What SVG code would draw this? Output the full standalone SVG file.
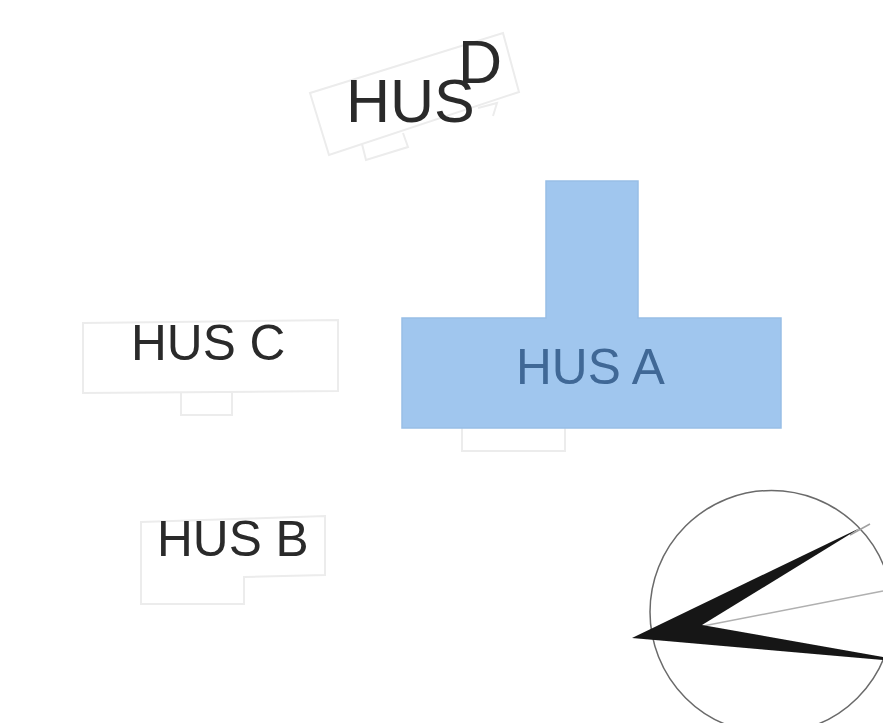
<svg xmlns="http://www.w3.org/2000/svg" width="883" height="723" viewBox="0 0 883 723">
<style>
.o{fill:none;stroke:#ececec;stroke-width:2}
.t{font-family:"Liberation Sans",Arial,sans-serif;font-size:49.6px;fill:#2a2a2a}
.d{font-size:61px}
.a{fill:#3f6896}
</style>
<defs><filter id="soft" x="-5%" y="-5%" width="110%" height="110%"><feGaussianBlur stdDeviation="0.6"/></filter></defs>
<rect width="883" height="723" fill="#fff"/>
<g filter="url(#soft)">
<g id="hus-d">
<path class="o" d="M310 93L503 33L519 92L329 155Z"/>
<path class="o" d="M362 144L366 160L408 147L403 133"/>
<path class="o" d="M478 108L497 103L493 116"/>
<text class="t d" x="346" y="122">HUS</text>
<text class="t d" x="458" y="83">D</text>
</g>
<g id="hus-a">
<path class="o" d="M462 428V451H565V428"/>
<path d="M546 181H638V318H781V428H402V318H546Z" fill="#a0c6ee"/>
<path d="M546 318V181H638V318H781V428H402V318Z" fill="none" stroke="#98bee6" stroke-width="1.5"/>
<text class="t a" x="516" y="384">HUS A</text>
</g>
<g id="hus-c">
<path class="o" d="M83 323L338 320V391L83 393Z"/>
<path class="o" d="M181 393V415H232V392"/>
<text class="t" x="131" y="360">HUS C</text>
</g>
<g id="hus-b">
<path class="o" d="M141 522L325 516V575L244 577V604H141Z"/>
<text class="t" x="157" y="556">HUS B</text>
</g>
<g id="compass">
<circle cx="771.500" cy="612" r="121.500" fill="none" stroke="#6a6a6a" stroke-width="1.5"/>
<line x1="703" y1="626" x2="883" y2="591" stroke="#b0b0b0" stroke-width="1.5"/>
<line x1="850" y1="535" x2="870" y2="524" stroke="#a0a0a0" stroke-width="1.5"/>
<path d="M632 638L860 528L702 625L883 657V660Z" fill="#151515"/>
</g>
</g>
</svg>
